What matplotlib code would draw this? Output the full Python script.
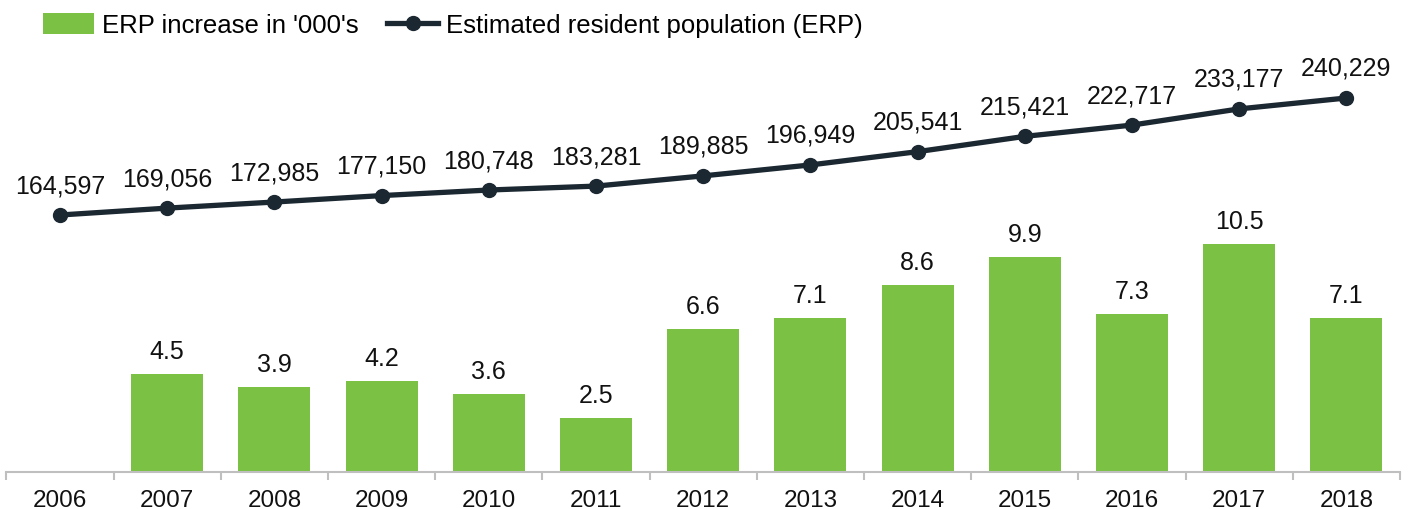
import numpy as np
import matplotlib
matplotlib.use('Agg')
import matplotlib.pyplot as plt

plt.rcParams['font.family'] = ['Liberation Sans', 'DejaVu Sans']

# Data
years = ['2006', '2007', '2008', '2009', '2010', '2011', '2012',
         '2013', '2014', '2015', '2016', '2017', '2018']
erp_increase = [np.nan, 4.5, 3.9, 4.2, 3.6, 2.5, 6.6, 7.1, 8.6, 9.9, 7.3, 10.5, 7.1]
erp = [164597, 169056, 172985, 177150, 180748, 183281, 189885,
       196949, 205541, 215421, 222717, 233177, 240229]

green = '#7BC143'
dark = '#1B2731'

fig = plt.figure(figsize=(14.08, 5.10), dpi=100)
ax = fig.add_axes([6.4 / 1408, 1 - 473 / 510, (1400 - 6.4) / 1408, (473 - 39) / 510])
x = np.arange(len(years))

bars = ax.bar(x, erp_increase, width=0.67, color=green, zorder=2,
              label="ERP increase in '000's")
for xi, v in zip(x, erp_increase):
    if not np.isnan(v):
        ax.annotate(f'{v:.1f}', (xi, v), xytext=(0, 11), textcoords='offset pixels',
                    ha='center', va='bottom', fontsize=18, color='#111111')

ax.set_xlim(-0.5, len(years) - 0.5)
ax.set_ylim(0, 20)
ax.set_yticks([])
for s in ['top', 'right', 'left']:
    ax.spines[s].set_visible(False)
ax.spines['bottom'].set_color('#BFBFBF')
ax.spines['bottom'].set_linewidth(1.5)
ax.set_xticks(x)
ax.set_xticklabels(years, fontsize=17.5, color='#111111')
ax.tick_params(axis='x', which='major', length=0, pad=12)
ax.set_xticks(np.arange(-0.5, len(years), 1), minor=True)
ax.tick_params(axis='x', which='minor', length=6, width=1.5, color='#BFBFBF')

ax2 = ax.twinx()
ax2.plot(x, erp, color=dark, linewidth=3.8, marker='o', markersize=10,
         label='Estimated resident population (ERP)', zorder=3)
for xi, v in zip(x, erp):
    ax2.annotate(f'{v:,}', (xi, v), xytext=(0, 18), textcoords='offset pixels',
                 ha='center', va='bottom', fontsize=18, color='#111111')
ax2.set_ylim(-1500, 279000)
ax2.set_yticks([])
for s in ['top', 'right', 'left', 'bottom']:
    ax2.spines[s].set_visible(False)

h1, l1 = ax.get_legend_handles_labels()
h2, l2 = ax2.get_legend_handles_labels()
fig.legend(h1 + h2, l1 + l2, loc='upper left', bbox_to_anchor=(0.014, 1.018),
           ncol=2, frameon=False, fontsize=18.5, handlelength=2.0,
           handleheight=0.9, handletextpad=0.3, columnspacing=1.1)

plt.savefig('out.png', dpi=100)
